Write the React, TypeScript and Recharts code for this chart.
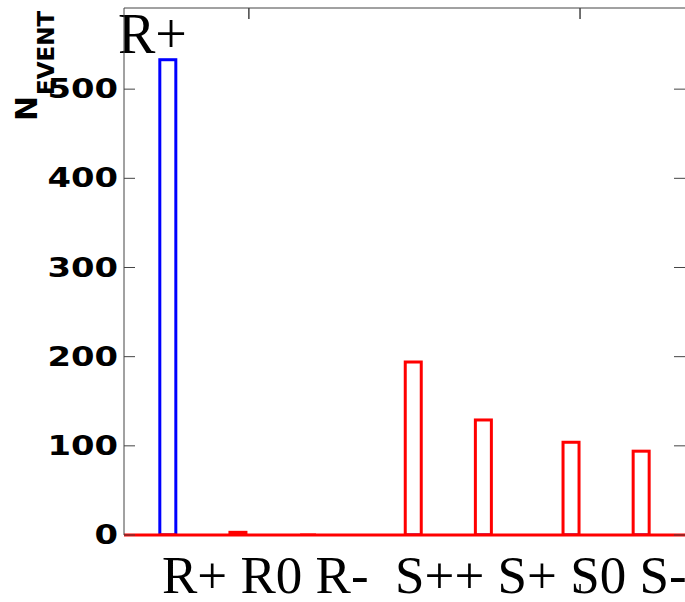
import { BarChart, Bar, XAxis, YAxis, ReferenceLine } from "recharts";

// histogram bins across the x range, categories sit in some of them
const nBins = 32;
const categories = ["R+", "R0", "R-", "S++", "S+", "S0", "S-"];
const binIndex = [2, 6, 10, 16, 20, 25, 29];
const blueCounts = [533, null, null, 0, 0, 0, 0];
const redCounts = [0, 3, 0, 194, 129, 104, 94];

const yTicks = [0, 100, 200, 300, 400, 500];
const yMax = 591;
const xTicks = [6.9, 25.2];

const title = "R+";
const yLabelMain = "N";
const yLabelSub = "EVENT";
const xLabel = categories.slice(0, 3).join(" ") + "  " + categories.slice(3).join(" ");

const rows = Array.from({ length: nBins }, (_, i) => {
  const k = binIndex.indexOf(i);
  return {
    bin: i,
    name: k >= 0 ? categories[k] : "",
    blue: k >= 0 ? blueCounts[k] : null,
    red: k >= 0 ? redCounts[k] : null,
  };
});

const AXIS = "#444";

function outline(key: string, color: string) {
  return (props: any) => {
    const { x, y, width, height, payload } = props;
    if (payload == null || payload[key] == null || !Number.isFinite(y)) return null;
    if (!height || height < 0.5) {
      return <line x1={x} x2={x + width} y1={y} y2={y} stroke={color} strokeWidth={3} />;
    }
    return <rect x={x} y={y} width={width} height={height} fill="none" stroke={color} strokeWidth={3} />;
  };
}

function LeftTick({ x, y, payload }: any) {
  return (
    <g>
      <line x1={x} x2={x + 11} y1={y} y2={y} stroke={AXIS} />
      <g transform={`translate(${x - 6},${y}) scale(1.3,1)`}>
        <text textAnchor="end" dominantBaseline="central" fontFamily="DejaVu Sans" fontWeight="bold" fontSize={26} fill="#000">
          {payload.value}
        </text>
      </g>
    </g>
  );
}

function RightTick({ x, y }: any) {
  return <line x1={x - 11} x2={x} y1={y} y2={y} stroke={AXIS} />;
}

function BottomTick({ x, y }: any) {
  return <line x1={x} x2={x} y1={y - 2} y2={y - 11} stroke="#000" strokeWidth={1.5} />;
}

function TopTick({ x, y }: any) {
  return <line x1={x} x2={x} y1={y} y2={y + 11} stroke={AXIS} strokeWidth={1.5} />;
}

function YLabel() {
  return (
    <text transform="translate(37,121) rotate(-90)" fontFamily="DejaVu Sans" fontWeight="bold" fill="#000">
      <tspan fontSize={30}>{yLabelMain}</tspan>
      <tspan fontSize={23} dx={1} dy={17}>{yLabelSub}</tspan>
    </text>
  );
}

function XLabel() {
  return (
    <text x={162} y={593} fontFamily="Liberation Serif" fontSize={53} fill="#000" xmlSpace="preserve" style={{ whiteSpace: "pre" }}>
      {xLabel}
    </text>
  );
}

function Title() {
  return (
    <text x={118} y={53} fontFamily="Liberation Serif" fontSize={56} fill="#000">
      {title}
    </text>
  );
}

export default function App() {
  return (
    <div style={{ position: "absolute", left: 0, top: 0, width: 685, height: 602, overflow: "hidden", background: "#fff" }}>
      <BarChart width={686} height={602} data={rows} margin={{ top: 7, right: 0, bottom: 0, left: 0 }} barCategoryGap={0.75}>
        <XAxis xAxisId="cat" dataKey="bin" type="category" hide />
        <XAxis xAxisId="cat2" dataKey="bin" type="category" hide />
        <XAxis
          xAxisId="num"
          type="number"
          domain={[0, nBins]}
          ticks={xTicks}
          allowDataOverflow
          orientation="bottom"
          height={67}
          axisLine={false}
          tickLine={false}
          tickSize={0}
          tickMargin={0}
          tick={<BottomTick />}
          label={<XLabel />}
        />
        <XAxis
          xAxisId="top"
          type="number"
          domain={[0, nBins]}
          ticks={xTicks}
          allowDataOverflow
          orientation="top"
          height={1}
          axisLine={{ stroke: AXIS }}
          tickLine={false}
          tickSize={0}
          tickMargin={0}
          tick={<TopTick />}
          label={<Title />}
        />
        <YAxis
          yAxisId="left"
          width={124}
          domain={[0, yMax]}
          ticks={yTicks}
          allowDataOverflow
          axisLine={{ stroke: AXIS }}
          tickLine={false}
          tickSize={0}
          tickMargin={0}
          tick={<LeftTick />}
          label={<YLabel />}
        />
        <YAxis
          yAxisId="right"
          orientation="right"
          width={1}
          domain={[0, yMax]}
          ticks={yTicks}
          allowDataOverflow
          axisLine={false}
          tickLine={false}
          tickSize={0}
          tickMargin={0}
          tick={<RightTick />}
        />
        <ReferenceLine xAxisId="cat" yAxisId="left" y={0} stroke="#ff0000" strokeWidth={3} />
        <Bar xAxisId="cat2" yAxisId="left" dataKey="blue" isAnimationActive={false} shape={outline("blue", "#0000ff")} />
        <Bar xAxisId="cat" yAxisId="left" dataKey="red" isAnimationActive={false} shape={outline("red", "#ff0000")} />
      </BarChart>
    </div>
  );
}
